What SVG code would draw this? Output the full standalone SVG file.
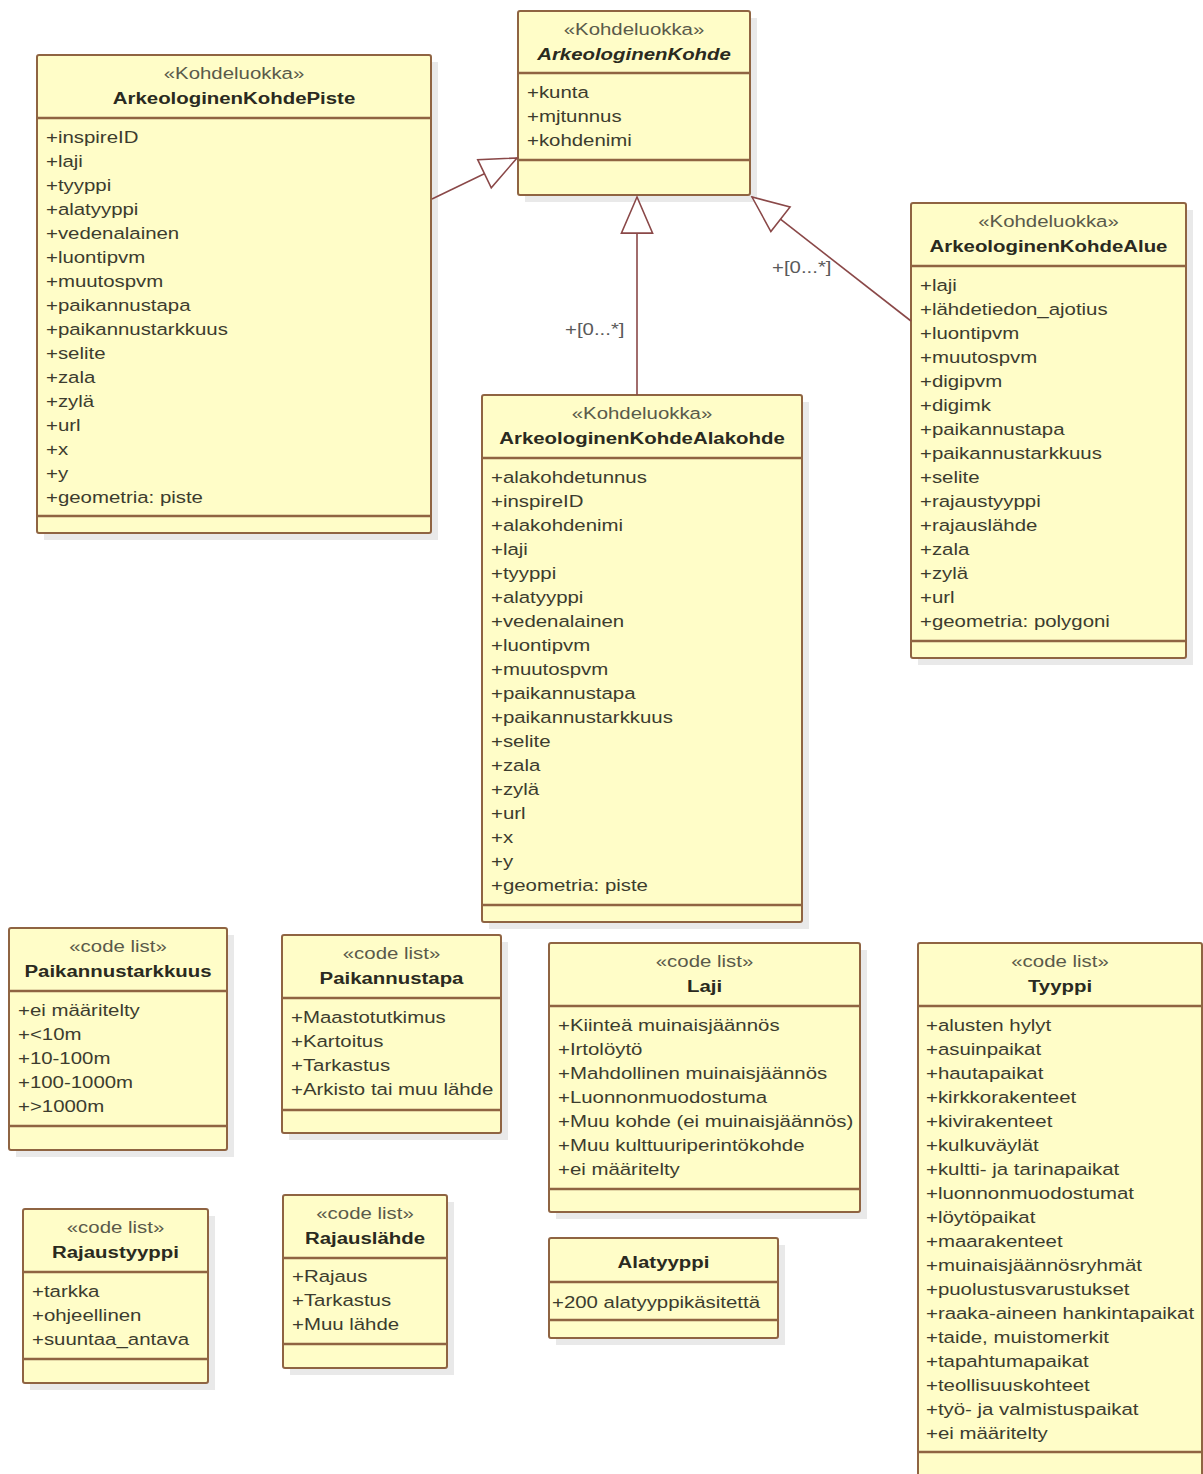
<svg xmlns="http://www.w3.org/2000/svg" width="1203" height="1474" viewBox="0 0 1203 1474">
<style>
.sh{fill:#e9e9e9}
.bx{fill:#fffdc8;stroke:#8f6442;stroke-width:2}
.dv{stroke:#8f6442;stroke-width:2.5}
text{font-family:"Liberation Sans",Arial,sans-serif;font-size:17px}
.st{fill:#5a5a4a;text-anchor:middle}
.nm{fill:#2a2a20;font-weight:bold;text-anchor:middle}
.it{font-style:italic}
.at{fill:#3c3c2e}
.cn{fill:none;stroke:#8a4848;stroke-width:1.6}
.lb{fill:#5a5a5a}
</style>
<defs>
<marker id="gen" markerUnits="userSpaceOnUse" markerWidth="40" markerHeight="36" viewBox="-39 -18 41 36" refX="0" refY="0" orient="auto">
<path d="M0,0 L-37,-16 L-37,16 Z" fill="#ffffff" stroke="#8a4848" stroke-width="1.6"/>
</marker>
</defs>
<rect width="1203" height="1474" fill="#ffffff"/>

<g id="ArkeologinenKohde">
<rect class="sh" x="525" y="18" width="232" height="184"/>
<rect class="bx" x="518" y="11" width="232" height="184" rx="2"/>
<line class="dv" x1="518" y1="73" x2="750" y2="73"/>
<line class="dv" x1="518" y1="160" x2="750" y2="160"/>
<g transform="translate(634,0) scale(1.2,1)"><text class="st" x="0" y="35">«Kohdeluokka»</text><text class="nm it" x="0" y="60">ArkeologinenKohde</text></g>
<g transform="translate(527,0) scale(1.2,1)"><text class="at" y="74"><tspan x="0" dy="24">+kunta</tspan><tspan x="0" dy="24">+mjtunnus</tspan><tspan x="0" dy="24">+kohdenimi</tspan></text></g>
</g>

<g id="ArkeologinenKohdePiste">
<rect class="sh" x="44" y="62" width="394" height="478"/>
<rect class="bx" x="37" y="55" width="394" height="478" rx="2"/>
<line class="dv" x1="37" y1="118" x2="431" y2="118"/>
<line class="dv" x1="37" y1="516" x2="431" y2="516"/>
<g transform="translate(234,0) scale(1.2,1)"><text class="st" x="0" y="79">«Kohdeluokka»</text><text class="nm" x="0" y="104">ArkeologinenKohdePiste</text></g>
<g transform="translate(46,0) scale(1.2,1)"><text class="at" y="119"><tspan x="0" dy="24">+inspireID</tspan><tspan x="0" dy="24">+laji</tspan><tspan x="0" dy="24">+tyyppi</tspan><tspan x="0" dy="24">+alatyyppi</tspan><tspan x="0" dy="24">+vedenalainen</tspan><tspan x="0" dy="24">+luontipvm</tspan><tspan x="0" dy="24">+muutospvm</tspan><tspan x="0" dy="24">+paikannustapa</tspan><tspan x="0" dy="24">+paikannustarkkuus</tspan><tspan x="0" dy="24">+selite</tspan><tspan x="0" dy="24">+zala</tspan><tspan x="0" dy="24">+zylä</tspan><tspan x="0" dy="24">+url</tspan><tspan x="0" dy="24">+x</tspan><tspan x="0" dy="24">+y</tspan><tspan x="0" dy="24">+geometria: piste</tspan></text></g>
</g>

<g id="ArkeologinenKohdeAlakohde">
<rect class="sh" x="489" y="402" width="320" height="527"/>
<rect class="bx" x="482" y="395" width="320" height="527" rx="2"/>
<line class="dv" x1="482" y1="458" x2="802" y2="458"/>
<line class="dv" x1="482" y1="905" x2="802" y2="905"/>
<g transform="translate(642,0) scale(1.2,1)"><text class="st" x="0" y="419">«Kohdeluokka»</text><text class="nm" x="0" y="444">ArkeologinenKohdeAlakohde</text></g>
<g transform="translate(491,0) scale(1.2,1)"><text class="at" y="459"><tspan x="0" dy="24">+alakohdetunnus</tspan><tspan x="0" dy="24">+inspireID</tspan><tspan x="0" dy="24">+alakohdenimi</tspan><tspan x="0" dy="24">+laji</tspan><tspan x="0" dy="24">+tyyppi</tspan><tspan x="0" dy="24">+alatyyppi</tspan><tspan x="0" dy="24">+vedenalainen</tspan><tspan x="0" dy="24">+luontipvm</tspan><tspan x="0" dy="24">+muutospvm</tspan><tspan x="0" dy="24">+paikannustapa</tspan><tspan x="0" dy="24">+paikannustarkkuus</tspan><tspan x="0" dy="24">+selite</tspan><tspan x="0" dy="24">+zala</tspan><tspan x="0" dy="24">+zylä</tspan><tspan x="0" dy="24">+url</tspan><tspan x="0" dy="24">+x</tspan><tspan x="0" dy="24">+y</tspan><tspan x="0" dy="24">+geometria: piste</tspan></text></g>
</g>

<g id="ArkeologinenKohdeAlue">
<rect class="sh" x="918" y="210" width="275" height="455"/>
<rect class="bx" x="911" y="203" width="275" height="455" rx="2"/>
<line class="dv" x1="911" y1="266" x2="1186" y2="266"/>
<line class="dv" x1="911" y1="641" x2="1186" y2="641"/>
<g transform="translate(1048.5,0) scale(1.2,1)"><text class="st" x="0" y="227">«Kohdeluokka»</text><text class="nm" x="0" y="252">ArkeologinenKohdeAlue</text></g>
<g transform="translate(920,0) scale(1.2,1)"><text class="at" y="267"><tspan x="0" dy="24">+laji</tspan><tspan x="0" dy="24">+lähdetiedon_ajotius</tspan><tspan x="0" dy="24">+luontipvm</tspan><tspan x="0" dy="24">+muutospvm</tspan><tspan x="0" dy="24">+digipvm</tspan><tspan x="0" dy="24">+digimk</tspan><tspan x="0" dy="24">+paikannustapa</tspan><tspan x="0" dy="24">+paikannustarkkuus</tspan><tspan x="0" dy="24">+selite</tspan><tspan x="0" dy="24">+rajaustyyppi</tspan><tspan x="0" dy="24">+rajauslähde</tspan><tspan x="0" dy="24">+zala</tspan><tspan x="0" dy="24">+zylä</tspan><tspan x="0" dy="24">+url</tspan><tspan x="0" dy="24">+geometria: polygoni</tspan></text></g>
</g>

<g id="Paikannustarkkuus">
<rect class="sh" x="16" y="935" width="218" height="222"/>
<rect class="bx" x="9" y="928" width="218" height="222" rx="2"/>
<line class="dv" x1="9" y1="991" x2="227" y2="991"/>
<line class="dv" x1="9" y1="1126" x2="227" y2="1126"/>
<g transform="translate(118,0) scale(1.2,1)"><text class="st" x="0" y="952">«code list»</text><text class="nm" x="0" y="977">Paikannustarkkuus</text></g>
<g transform="translate(18,0) scale(1.2,1)"><text class="at" y="992"><tspan x="0" dy="24">+ei määritelty</tspan><tspan x="0" dy="24">+&lt;10m</tspan><tspan x="0" dy="24">+10-100m</tspan><tspan x="0" dy="24">+100-1000m</tspan><tspan x="0" dy="24">+&gt;1000m</tspan></text></g>
</g>

<g id="Paikannustapa">
<rect class="sh" x="289" y="942" width="219" height="198"/>
<rect class="bx" x="282" y="935" width="219" height="198" rx="2"/>
<line class="dv" x1="282" y1="998" x2="501" y2="998"/>
<line class="dv" x1="282" y1="1110" x2="501" y2="1110"/>
<g transform="translate(391.5,0) scale(1.2,1)"><text class="st" x="0" y="959">«code list»</text><text class="nm" x="0" y="984">Paikannustapa</text></g>
<g transform="translate(291,0) scale(1.2,1)"><text class="at" y="999"><tspan x="0" dy="24">+Maastotutkimus</tspan><tspan x="0" dy="24">+Kartoitus</tspan><tspan x="0" dy="24">+Tarkastus</tspan><tspan x="0" dy="24">+Arkisto tai muu lähde</tspan></text></g>
</g>

<g id="Laji">
<rect class="sh" x="556" y="950" width="311" height="269"/>
<rect class="bx" x="549" y="943" width="311" height="269" rx="2"/>
<line class="dv" x1="549" y1="1006" x2="860" y2="1006"/>
<line class="dv" x1="549" y1="1189" x2="860" y2="1189"/>
<g transform="translate(704.5,0) scale(1.2,1)"><text class="st" x="0" y="967">«code list»</text><text class="nm" x="0" y="992">Laji</text></g>
<g transform="translate(558,0) scale(1.2,1)"><text class="at" y="1007"><tspan x="0" dy="24">+Kiinteä muinaisjäännös</tspan><tspan x="0" dy="24">+Irtolöytö</tspan><tspan x="0" dy="24">+Mahdollinen muinaisjäännös</tspan><tspan x="0" dy="24">+Luonnonmuodostuma</tspan><tspan x="0" dy="24">+Muu kohde (ei muinaisjäännös)</tspan><tspan x="0" dy="24">+Muu kulttuuriperintökohde</tspan><tspan x="0" dy="24">+ei määritelty</tspan></text></g>
</g>

<g id="Tyyppi">
<rect class="sh" x="925" y="950" width="284" height="533"/>
<rect class="bx" x="918" y="943" width="284" height="533" rx="2"/>
<line class="dv" x1="918" y1="1006" x2="1202" y2="1006"/>
<line class="dv" x1="918" y1="1452" x2="1202" y2="1452"/>
<g transform="translate(1060,0) scale(1.2,1)"><text class="st" x="0" y="967">«code list»</text><text class="nm" x="0" y="992">Tyyppi</text></g>
<g transform="translate(926,0) scale(1.2,1)"><text class="at" y="1007"><tspan x="0" dy="24">+alusten hylyt</tspan><tspan x="0" dy="24">+asuinpaikat</tspan><tspan x="0" dy="24">+hautapaikat</tspan><tspan x="0" dy="24">+kirkkorakenteet</tspan><tspan x="0" dy="24">+kivirakenteet</tspan><tspan x="0" dy="24">+kulkuväylät</tspan><tspan x="0" dy="24">+kultti- ja tarinapaikat</tspan><tspan x="0" dy="24">+luonnonmuodostumat</tspan><tspan x="0" dy="24">+löytöpaikat</tspan><tspan x="0" dy="24">+maarakenteet</tspan><tspan x="0" dy="24">+muinaisjäännösryhmät</tspan><tspan x="0" dy="24">+puolustusvarustukset</tspan><tspan x="0" dy="24">+raaka-aineen hankintapaikat</tspan><tspan x="0" dy="24">+taide, muistomerkit</tspan><tspan x="0" dy="24">+tapahtumapaikat</tspan><tspan x="0" dy="24">+teollisuuskohteet</tspan><tspan x="0" dy="24">+työ- ja valmistuspaikat</tspan><tspan x="0" dy="24">+ei määritelty</tspan></text></g>
</g>

<g id="Rajaustyyppi">
<rect class="sh" x="30" y="1216" width="185" height="174"/>
<rect class="bx" x="23" y="1209" width="185" height="174" rx="2"/>
<line class="dv" x1="23" y1="1272" x2="208" y2="1272"/>
<line class="dv" x1="23" y1="1359" x2="208" y2="1359"/>
<g transform="translate(115.5,0) scale(1.2,1)"><text class="st" x="0" y="1233">«code list»</text><text class="nm" x="0" y="1258">Rajaustyyppi</text></g>
<g transform="translate(32,0) scale(1.2,1)"><text class="at" y="1273"><tspan x="0" dy="24">+tarkka</tspan><tspan x="0" dy="24">+ohjeellinen</tspan><tspan x="0" dy="24">+suuntaa_antava</tspan></text></g>
</g>

<g id="Rajauslahde">
<rect class="sh" x="290" y="1202" width="164" height="173"/>
<rect class="bx" x="283" y="1195" width="164" height="173" rx="2"/>
<line class="dv" x1="283" y1="1258" x2="447" y2="1258"/>
<line class="dv" x1="283" y1="1344" x2="447" y2="1344"/>
<g transform="translate(365,0) scale(1.2,1)"><text class="st" x="0" y="1219">«code list»</text><text class="nm" x="0" y="1244">Rajauslähde</text></g>
<g transform="translate(292,0) scale(1.2,1)"><text class="at" y="1258"><tspan x="0" dy="24">+Rajaus</tspan><tspan x="0" dy="24">+Tarkastus</tspan><tspan x="0" dy="24">+Muu lähde</tspan></text></g>
</g>

<g id="Alatyyppi">
<rect class="sh" x="556" y="1245" width="229" height="100"/>
<rect class="bx" x="549" y="1238" width="229" height="100" rx="2"/>
<line class="dv" x1="549" y1="1282" x2="778" y2="1282"/>
<line class="dv" x1="549" y1="1320" x2="778" y2="1320"/>
<g transform="translate(663.5,0) scale(1.2,1)"><text class="nm" x="0" y="1268">Alatyyppi</text></g>
<g transform="translate(552,0) scale(1.2,1)"><text class="at" x="0" y="1308">+200 alatyyppikäsitettä</text></g>
</g>

<g id="connectors">
<line class="cn" x1="432" y1="199" x2="517" y2="158" marker-end="url(#gen)"/>
<line class="cn" x1="637" y1="395" x2="637" y2="197" marker-end="url(#gen)"/>
<line class="cn" x1="911" y1="321" x2="752" y2="197" marker-end="url(#gen)"/>
<g transform="translate(565,0) scale(1.2,1)"><text class="lb" x="0" y="335">+[0...*]</text></g>
<g transform="translate(772,0) scale(1.2,1)"><text class="lb" x="0" y="273">+[0...*]</text></g>
</g>
</svg>
